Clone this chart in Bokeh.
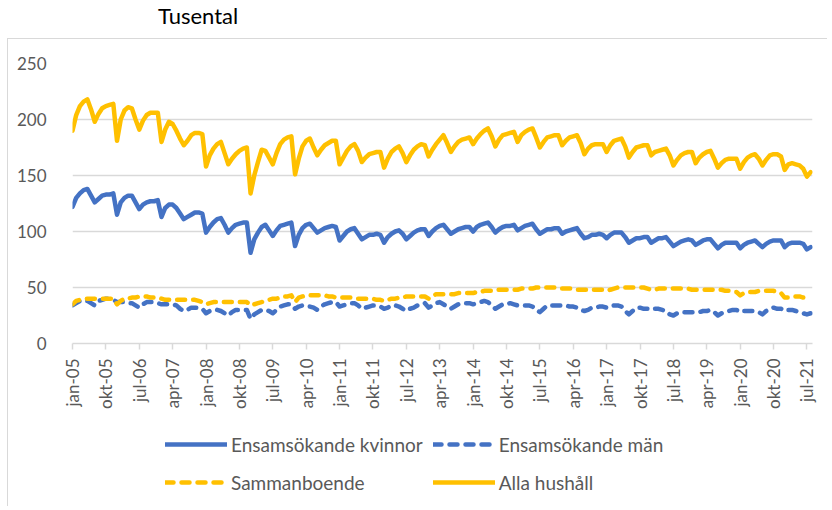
from math import pi
from bokeh.plotting import figure
from bokeh.models import Range1d, FixedTicker, Legend, LegendItem, Div
from bokeh.layouts import column
from bokeh.embed import file_html
from bokeh.resources import INLINE

# Monthly data, jan-05 .. aug-21 (thousands)
tick_labels = ["jan-05", "okt-05", "jul-06", "apr-07", "jan-08", "okt-08", "jul-09",
               "apr-10", "jan-11", "okt-11", "jul-12", "apr-13", "jan-14", "okt-14",
               "jul-15", "apr-16", "jan-17", "okt-17", "jul-18", "apr-19", "jan-20",
               "okt-20", "jul-21"]
tick_pos = [0, 9, 18, 27, 36, 45, 54, 63, 72, 81, 90, 99, 108, 117, 126, 135, 144,
            153, 162, 171, 180, 189, 198]
series_names = ["Ensamsökande kvinnor", "Ensamsökande män", "Sammanboende", "Alla hushåll"]

kvinnor = [
    122, 130, 134, 137, 138, 132, 126, 129, 132, 133, 133, 134,
    115, 126, 130, 132, 132, 126, 120, 124, 126, 127, 127, 128,
    113, 121, 124, 124, 121, 116, 111, 113, 115, 117, 117, 116,
    99, 104, 108, 111, 112, 106, 99, 103, 106, 107, 108, 108,
    81, 93, 99, 104, 106, 101, 96, 101, 105, 106, 107, 108,
    87, 97, 103, 106, 107, 103, 99, 101, 103, 104, 105, 104,
    92, 96, 100, 102, 103, 98, 93, 95, 97, 97, 98, 97,
    90, 95, 98, 100, 101, 98, 93, 96, 99, 101, 102, 102,
    96, 100, 103, 105, 106, 102, 98, 100, 102, 103, 104, 104,
    100, 104, 106, 107, 108, 104, 99, 102, 104, 105, 105, 106,
    101, 103, 105, 106, 107, 102, 98, 100, 102, 102, 103, 103,
    98, 100, 101, 102, 103, 98, 94, 95, 97, 97, 98, 97,
    94, 97, 99, 99, 99, 95, 90, 92, 94, 94, 95, 95,
    90, 92, 94, 94, 95, 91, 87, 89, 91, 92, 93, 92,
    88, 90, 92, 93, 93, 89, 85, 88, 90, 90, 90, 90,
    85, 88, 90, 91, 92, 89, 86, 89, 91, 92, 92, 92,
    86, 89, 90, 90, 90, 89, 84, 86,
]
man = [
    34, 36, 38, 38, 38, 36, 34, 38, 39, 40, 40, 39,
    37, 37, 37, 36, 36, 34, 32, 35, 37, 37, 37, 36,
    35, 35, 35, 35, 34, 31, 29, 30, 32, 32, 32, 31,
    27, 29, 30, 30, 29, 27, 25, 28, 30, 30, 30, 30,
    22, 26, 28, 30, 30, 29, 27, 30, 33, 34, 35, 35,
    31, 33, 34, 33, 33, 32, 30, 33, 35, 36, 37, 37,
    33, 34, 35, 36, 36, 34, 31, 32, 33, 34, 34, 33,
    31, 32, 34, 34, 33, 31, 29, 31, 32, 34, 35, 36,
    32, 34, 36, 37, 35, 33, 31, 33, 35, 36, 36, 36,
    35, 36, 37, 38, 37, 34, 31, 33, 35, 35, 36, 35,
    34, 34, 34, 34, 33, 30, 28, 31, 34, 34, 34, 34,
    34, 34, 33, 33, 32, 30, 29, 30, 32, 32, 33, 33,
    32, 33, 34, 34, 33, 29, 26, 29, 32, 32, 31, 31,
    30, 31, 31, 30, 29, 26, 25, 27, 28, 28, 28, 28,
    28, 28, 29, 29, 30, 28, 25, 27, 28, 29, 30, 30,
    28, 29, 29, 29, 29, 28, 26, 29, 31, 32, 31, 31,
    29, 30, 30, 29, 28, 27, 26, 27,
]
samman = [
    35, 38, 39, 40, 40, 40, 40, 40, 40, 40, 40, 40,
    35, 38, 40, 40, 41, 41, 42, 42, 42, 41, 41, 41,
    40, 39, 39, 39, 39, 39, 39, 39, 39, 39, 38, 37,
    35, 36, 37, 37, 37, 37, 37, 37, 37, 37, 37, 37,
    34, 35, 36, 37, 38, 39, 40, 40, 41, 42, 42, 43,
    37, 41, 42, 43, 43, 43, 43, 43, 43, 42, 42, 41,
    41, 41, 41, 41, 41, 40, 40, 40, 40, 40, 39, 39,
    38, 39, 40, 40, 41, 41, 42, 42, 42, 42, 42, 42,
    40, 42, 44, 44, 44, 44, 44, 44, 45, 45, 45, 45,
    45, 46, 46, 47, 47, 47, 48, 48, 48, 48, 48, 48,
    48, 49, 49, 49, 49, 50, 50, 50, 50, 50, 50, 49,
    49, 49, 49, 49, 48, 48, 48, 48, 48, 48, 48, 48,
    47, 48, 49, 50, 50, 50, 50, 50, 50, 50, 50, 49,
    48, 48, 49, 49, 49, 49, 49, 49, 49, 49, 49, 48,
    48, 48, 48, 48, 48, 48, 48, 48, 47, 47, 46, 46,
    43, 45, 46, 46, 46, 47, 47, 47, 47, 47, 46, 45,
    41, 41, 42, 42, 42, 41, 41, 41,
]
alla = [
    190, 204, 212, 216, 218, 209, 198, 205, 210, 212, 213, 214,
    181, 200, 208, 211, 210, 200, 191, 199, 204, 206, 206, 206,
    180, 191, 198, 196, 190, 183, 177, 181, 186, 188, 188, 187,
    158, 168, 174, 178, 180, 170, 160, 165, 169, 172, 174, 175,
    134, 150, 162, 173, 172, 166, 160, 170, 178, 182, 184, 185,
    151, 165, 176, 181, 183, 175, 168, 173, 177, 179, 181, 181,
    160, 166, 172, 176, 178, 172, 162, 166, 169, 170, 171, 171,
    157, 165, 171, 174, 176, 170, 162, 168, 173, 176, 178, 177,
    167, 173, 178, 182, 186, 179, 171, 176, 180, 182, 183, 184,
    178, 183, 187, 190, 192, 185, 176, 182, 186, 187, 188, 189,
    180, 186, 189, 191, 192, 184, 175, 180, 184, 185, 186, 186,
    177, 181, 184, 185, 186, 179, 169, 174, 177, 178, 178, 178,
    171, 177, 181, 182, 183, 176, 166, 171, 175, 176, 177, 177,
    168, 171, 172, 173, 174, 168, 159, 164, 168, 170, 171, 171,
    161, 166, 169, 171, 172, 165, 157, 161, 164, 165, 165, 165,
    156, 162, 166, 168, 169, 165, 159, 164, 168, 169, 169, 167,
    155, 160, 161, 160, 159, 156, 149, 153,
]
months = list(range(len(alla)))
all_series = [kvinnor, man, samman, alla]

BLUE = "#4472C4"
YELLOW = "#FFC000"
GREY = "#595959"
FONT = "Lato"
BORDER = "1px solid #d9d9d9"

# ---- main chart ----
p = figure(width=820, height=372, output_backend="svg", toolbar_location=None,
           x_range=Range1d(0, 199.5), y_range=Range1d(0, 250),
           min_border_left=64, min_border_right=16, min_border_top=24,
           min_border_bottom=68)
p.margin = (0, 0, 0, 7)
p.outline_line_color = None
p.background_fill_color = "white"
p.border_fill_color = "white"
p.styles = {"border-top": BORDER, "border-left": BORDER}

p.xgrid.visible = False
p.ygrid.grid_line_color = "#d9d9d9"
p.ygrid.grid_line_width = 1.5

p.yaxis.ticker = FixedTicker(ticks=[0, 50, 100, 150, 200, 250])
p.yaxis.axis_line_color = None
p.yaxis.major_tick_line_color = None
p.yaxis.minor_tick_line_color = None
p.yaxis.major_label_standoff = 20
p.yaxis.major_label_text_font = FONT
p.yaxis.major_label_text_font_size = "17px"
p.yaxis.major_label_text_color = GREY

p.xaxis.ticker = FixedTicker(ticks=tick_pos)
p.xaxis.major_label_overrides = {t: l for t, l in zip(tick_pos, tick_labels)}
p.xaxis.major_label_orientation = pi / 2
p.xaxis.axis_line_color = "#d9d9d9"
p.xaxis.axis_line_width = 1.5
p.xaxis.major_tick_line_color = "#d9d9d9"
p.xaxis.major_tick_line_width = 1.5
p.xaxis.major_tick_out = 6
p.xaxis.major_tick_in = 0
p.xaxis.minor_tick_line_color = None
p.xaxis.major_label_standoff = 9
p.xaxis.major_label_text_font = FONT
p.xaxis.major_label_text_font_size = "17px"
p.xaxis.major_label_text_color = GREY

styles = [
    dict(line_color=BLUE),
    dict(line_color=BLUE, line_dash="8 8"),
    dict(line_color=YELLOW, line_dash="8 8"),
    dict(line_color=YELLOW),
]
common = dict(line_width=4.5, line_join="round", line_cap="round")
for vals, st in zip(all_series, styles):
    p.line(months, vals, **st, **common)

# ---- legend strip (separate canvas below the chart; its ranges keep the
#      series themselves out of view, only the legend keys show) ----
lg = figure(width=820, height=96, output_backend="svg", toolbar_location=None,
            x_range=Range1d(0, 1), y_range=Range1d(-2, -1),
            min_border_left=0, min_border_right=0, min_border_top=0, min_border_bottom=0,
            x_axis_location=None, y_axis_location=None)
lg.margin = (0, 0, 0, 7)
lg.grid.visible = False
lg.outline_line_color = None
lg.border_fill_color = "white"
lg.styles = {"border-left": BORDER}
items = {}
for name, vals, st in zip(series_names, all_series, styles):
    r = lg.line(months, vals, **st, **common)
    items[name] = LegendItem(label=name, renderers=[r])

# column-major fill: column 1 = kvinnor, sammanboende; column 2 = män, alla
order = ["Ensamsökande kvinnor", "Sammanboende", "Ensamsökande män", "Alla hushåll"]
legend = Legend(items=[items[n] for n in order], ncols=2, location=(93, 10))
legend.border_line_color = None
legend.background_fill_alpha = 0
legend.padding = 0
legend.margin = 0
legend.spacing = 10
legend.glyph_width = 62
legend.glyph_height = 28
legend.label_height = 28
legend.label_standoff = 4
legend.label_text_font = FONT
legend.label_text_font_size = "19px"
legend.label_text_color = GREY
lg.add_layout(legend, "center")

title = Div(text='<div style="position:relative; left:158px; top:5px; font-family:Lato; '
                 'font-size:22px; line-height:22px; color:#000000; white-space:nowrap">Tusental</div>',
            width=820, height=38, margin=(0, 0, 0, 0))

layout = column(title, p, lg)
open("out.html", "w").write(file_html(layout, INLINE))
